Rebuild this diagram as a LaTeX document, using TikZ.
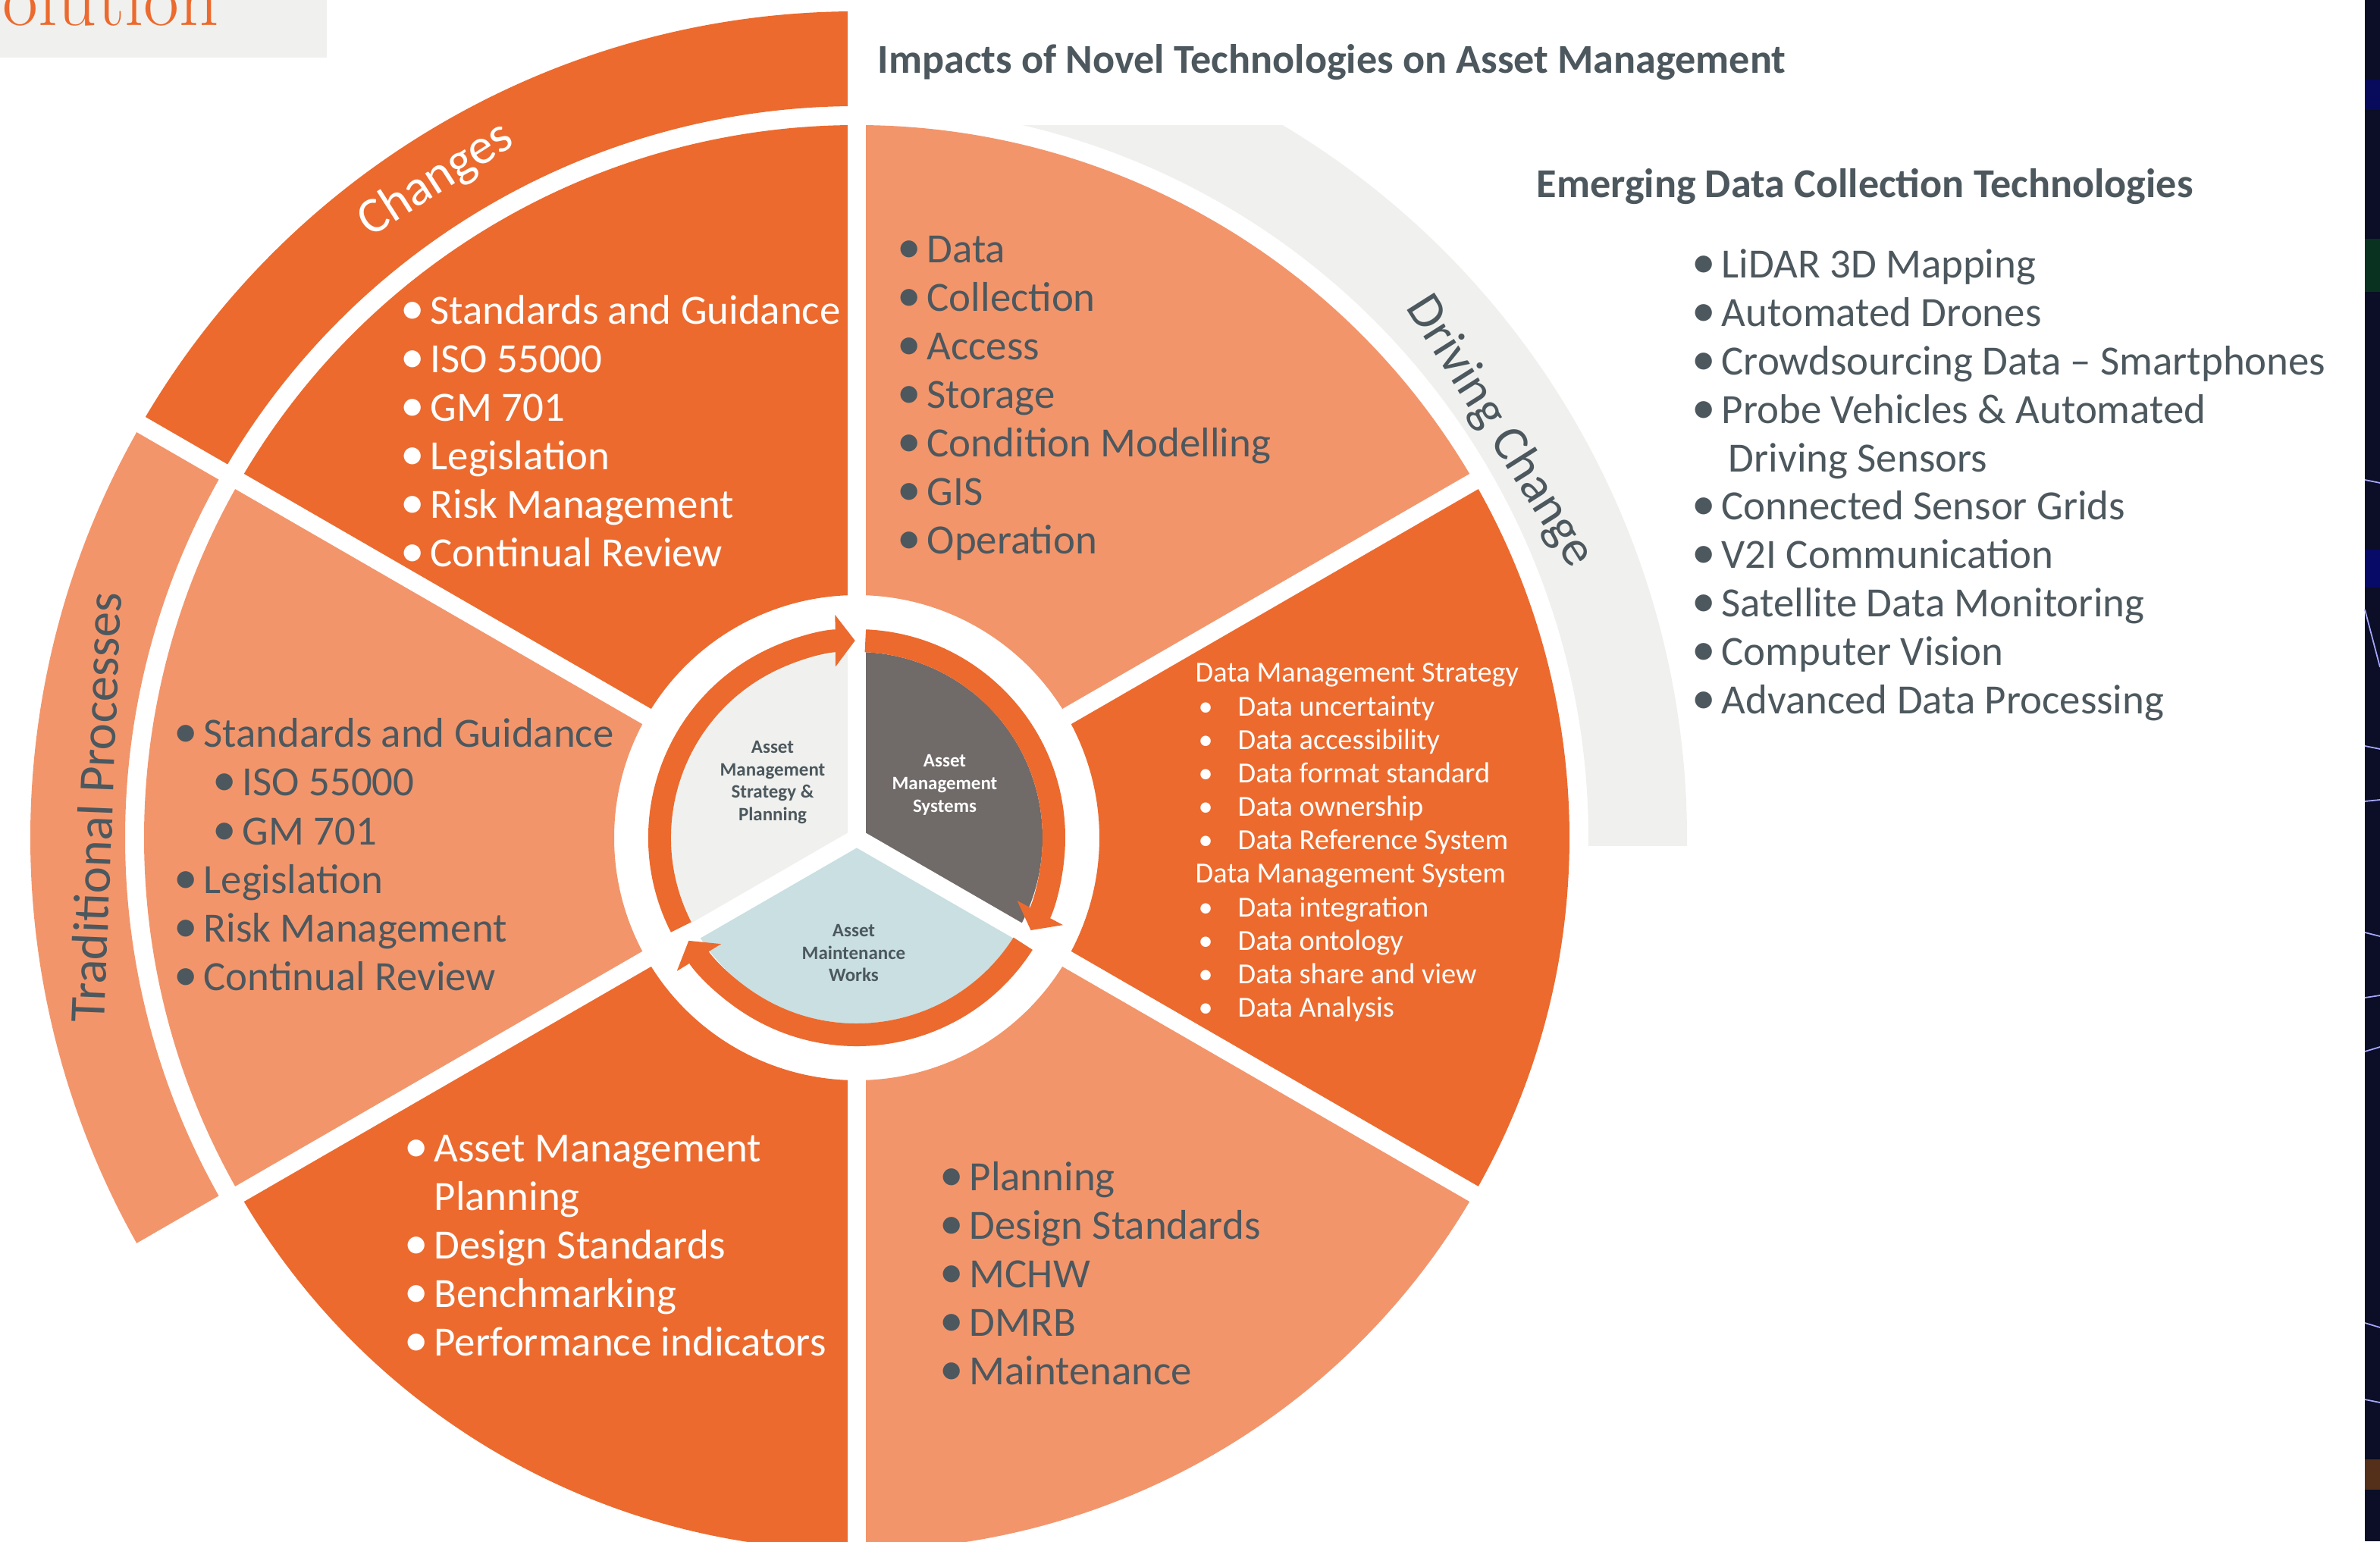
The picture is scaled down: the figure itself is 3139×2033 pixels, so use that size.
\documentclass[tikz,border=0pt]{standalone}
\usepackage{fontspec}
\setmainfont{Carlito}
\newfontfamily\titleserif{Latin Modern Roman}
\usetikzlibrary{arrows.meta}

\definecolor{amorange}{HTML}{EC6A2E}
\definecolor{amsalmon}{HTML}{F3956B}
\definecolor{amlight}{HTML}{F0F1EE}
\definecolor{amdark}{HTML}{706A69}
\definecolor{amblue}{HTML}{C9DFE1}
\definecolor{amtext}{HTML}{4C585E}
\definecolor{amnight}{HTML}{0B0E26}

% bullets for the lists
\newcommand{\bul}{\makebox[0.32cm][l]{\hspace*{-0.07cm}\scalebox{1.15}{\textbullet}}}
\newcommand{\nobul}{\hspace*{0.32cm}}
\newcommand{\rbul}{\hspace*{0.04cm}\makebox[0.52cm][l]{\textbullet}}
% ring sector: colour, from, to, inner radius, outer radius
\newcommand{\amsector}[5]{\fill[#1] (#2:#5) arc[start angle=#2, end angle=#3, radius=#5]
  -- (#3:#4) arc[start angle=#3, end angle=#2, radius=#4] -- cycle;}

\begin{document}
\begin{tikzpicture}[x=0.01cm, y=0.01cm,
    gap/.style={white, line width=0.23cm},
    ringarrow/.style={amorange, line width=0.3cm, -{Triangle[width=0.67cm,length=0.26cm]}},
    wlist/.style={text=white, font=\fontsize{15.6}{18}\selectfont, anchor=base west, inner sep=0},
    dlist/.style={wlist, text=amtext},
    wsmall/.style={wlist, font=\fontsize{10.9}{12.5}\selectfont},
    headtxt/.style={text=amtext, font=\bfseries\fontsize{15.4}{18}\selectfont, anchor=base west, inner sep=0},
    coretxt/.style={text=amtext, font=\bfseries\fontsize{7.1}{8.5}\selectfont, align=center, inner sep=0},
    bandtxt/.style={text=amtext, font=\fontsize{19}{22}\selectfont, inner sep=0},
    streak/.style={draw=blue!35!white, line width=0.5pt}]
  \useasboundingbox (-1130,-928) rectangle (2009,1105);

  % title tab
  \fill[amlight] (-1130,1105) rectangle (-699,1029);
  \node[anchor=base west, inner sep=0, text=amorange, font=\titleserif\fontsize{29}{32}\selectfont] (olu) at (-1127,1071) {olution};

  % outer bands
  \amsector{amorange}{90}{150}{965}{1090}
  \amsector{amsalmon}{150}{210}{965}{1090}
  \begin{scope}
    \clip (0,-10) rectangle (1200,939);
    \amsector{amlight}{-5}{90}{965}{1095}
  \end{scope}

  % main wheel
  \foreach \a/\b/\c in {90/150/amorange, 150/210/amsalmon, 210/270/amorange,
                        270/330/amsalmon, 330/390/amorange, 30/90/amsalmon}
    {\amsector{\c}{\a}{\b}{320}{940}}

  % inner circle
  \foreach \a/\b/\c in {90/210/amlight, -30/90/amdark, 210/330/amblue}
    \fill[\c] (0,0) -- (\a:245) arc[start angle=\a, end angle=\b, radius=245] -- cycle;

  % white gaps between the pieces
  \foreach \a/\ri/\ro in {90/0/1110, 150/290/1110, 210/0/1110, 270/290/1000, 330/0/952, 30/290/952}
    \draw[gap] (\a:\ri) -- (\a:\ro);

  % cycle arrows
  \draw[ringarrow] (207:260) arc[start angle=207, end angle=90.5, radius=260];
  \draw[ringarrow] (87.5:260) arc[start angle=87.5, end angle=-28, radius=260];
  \draw[ringarrow] (-32.5:260) arc[start angle=-32.5, end angle=-148.5, radius=260];

  \node[coretxt] (strategy) at (-111,73) {Asset\\Management\\Strategy \&\\Planning};
  \node[coretxt, text=white] (systems) at (116,70) {Asset\\Management\\Systems};
  \node[coretxt] (works) at (-4,-152) {Asset\\Maintenance\\Works};

  % band labels
  \node[bandtxt, text=white, rotate=32.6] (changes) at (122.6:1030) {Changes};
  \node[bandtxt, rotate=87.7] (traditional) at (177.7:1005) {Traditional Processes};
  \node[bandtxt, rotate=-57.7] (driving) at (32.3:1003) {Driving Change};

  % sector lists
  \foreach \t [count=\i from 0] in {Standards and Guidance, ISO 55000, GM 701, Legislation, Risk Management, Continual Review}
    \node[wlist] (tl-\i) at (-595,677-64*\i) {\bul\t};
  \foreach \t [count=\i from 0] in {Data, Collection, Access, Storage, Condition Modelling, GIS, Operation}
    \node[dlist] (tr-\i) at (60,758-64*\i) {\bul\t};
  \foreach \d/\t [count=\i from 0] in {0/Standards and Guidance, 1/ISO 55000, 1/GM 701, 0/Legislation, 0/Risk Management, 0/Continual Review}
    \node[dlist] (l-\i) at (-894+51*\d,119-64*\i) {\bul\t};
  \foreach \t [count=\i from 0] in {\bul Asset Management, \nobul Planning, \bul Design Standards, \bul Benchmarking, \bul Performance indicators}
    \node[wlist] (bl-\i) at (-590,-427-64*\i) {\t};
  \foreach \t [count=\i from 0] in {Planning, Design Standards, MCHW, DMRB, Maintenance}
    \node[dlist] (br-\i) at (116,-465-64*\i) {\bul\t};
  \foreach \t [count=\i from 0] in {Data Management Strategy, \rbul Data uncertainty, \rbul Data accessibility,
      \rbul Data format standard, \rbul Data ownership, \rbul Data Reference System, Data Management System,
      \rbul Data integration, \rbul Data ontology, \rbul Data share and view, \rbul Data Analysis}
    \node[wsmall] (r-\i) at (446,205-44.15*\i) {\t};

  % right column
  \node[headtxt] (impacts) at (27,1008) {Impacts of Novel Technologies on Asset Management};
  \node[headtxt] (emerging) at (896,844) {Emerging Data Collection Technologies};
  \foreach \t [count=\i from 0] in {\bul LiDAR 3D Mapping, \bul Automated Drones, \bul Crowdsourcing Data – Smartphones,
      \bul Probe Vehicles \& Automated, \nobul\,Driving Sensors, \bul Connected Sensor Grids, \bul V2I Communication,
      \bul Satellite Data Monitoring, \bul Computer Vision, \bul Advanced Data Processing}
    \node[dlist] (em-\i) at (1108,738-63.8*\i) {\t};

  % photo strip on the right edge
  \fill[amnight] (1989,-928) rectangle (2009,1105);
  \fill[blue!25!amnight] (1989,960) rectangle (2009,1000);
  \fill[green!15!amnight] (1989,720) rectangle (2009,790);
  \fill[blue!30!amnight] (1989,330) rectangle (2009,380);
  \fill[orange!30!amnight] (1989,-820) rectangle (2009,-860);
  \foreach \ya/\yb in {472/468, 301/225, 121/117, 48/50, -125/-130, -211/-208, -282/-276, -640/-646, -741/-745}
    \draw[streak] (1989,\ya) -- (2009,\yb);
\end{tikzpicture}
\end{document}
